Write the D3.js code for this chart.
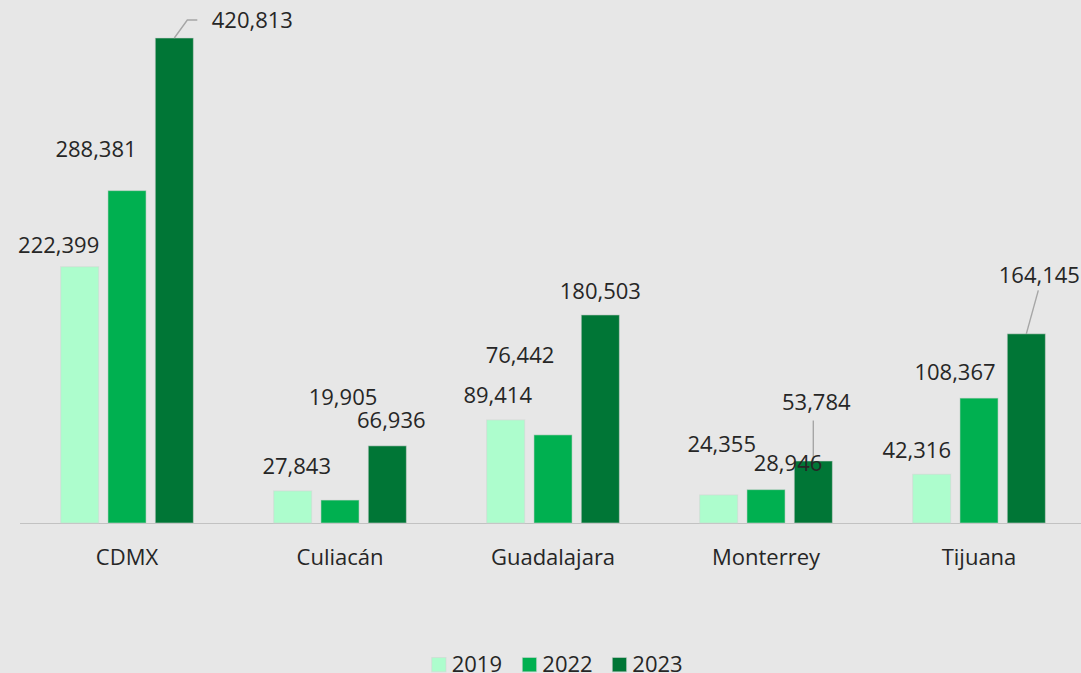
<!DOCTYPE html>
<html>
<head>
<meta charset="utf-8">
<script src="https://cdn.jsdelivr.net/npm/d3@7/dist/d3.min.js"></script>
<style>
  html, body { margin: 0; padding: 0; background: #e7e7e7; }
  svg { display: block; }
  text { font-family: "Open Sans", "Noto Sans", sans-serif; fill: #262626; }
</style>
</head>
<body>
<svg id="chart" width="1081" height="673"></svg>
<script>
// Categories and series
const cities = ["CDMX", "Culiacán", "Guadalajara", "Monterrey", "Tijuana"];
const years = ["2019", "2022", "2023"];
const values2019 = [222399, 27843, 89414, 24355, 42316];
const values2022 = [288381, 19905, 76442, 28946, 108367];
const values2023 = [420813, 66936, 180503, 53784, 164145];
const seriesColors = ["#adfdcd", "#00b050", "#007636"];

// Hand-placed data label offsets (dx, dy of label baseline from bar top centre)
const labelOffsets2019 = [[-21, -14], [4, -17], [-8, -17], [3, -43], [-15, -16.5]];
const labelOffsets2022 = [[-31, -34], [3, -95], [-33, -71.5], [22, -19], [-24, -18]];
const labelOffsets2023 = [[78, -10], [4, -17.5], [0, -16], [3, -51], [13, -51]];

// Leader lines, as points relative to the bar top centre
const leaderLines = [
  { city: "CDMX", year: "2023", pts: [[0, 0], [13, -18], [23, -18]] },
  { city: "Monterrey", year: "2023", pts: [[0, 0], [0, -40.5]] },
  { city: "Tijuana", year: "2023", pts: [[0, 0], [12, -43.5]] }
];

const seriesValues = [values2019, values2022, values2023];
const seriesOffsets = [labelOffsets2019, labelOffsets2022, labelOffsets2023];

const svg = d3.select("#chart");
const baseY = 523;

const x0 = d3.scaleBand()
  .domain(cities)
  .range([20.5, 1085.5])
  .paddingInner(0.377)
  .paddingOuter(0.1885);

const x1 = d3.scaleBand()
  .domain(years)
  .range([0, x0.bandwidth()])
  .paddingInner(0.195)
  .paddingOuter(0);

const allValues = values2019.concat(values2022, values2023);
const y = d3.scaleLinear()
  .domain([0, d3.max(allValues)])
  .range([baseY, 38]);

// Flattened bar records
const bars = [];
years.forEach((yr, si) => {
  cities.forEach((c, ci) => {
    bars.push({
      city: c, year: yr, value: seriesValues[si][ci],
      color: seriesColors[si], off: seriesOffsets[si][ci]
    });
  });
});
const barCx = d => x0(d.city) + x1(d.year) + x1.bandwidth() / 2;

// Category axis
const axis = svg.append("g")
  .attr("transform", `translate(0,${baseY + 0.5})`)
  .call(d3.axisBottom(x0).tickSize(0).tickPadding(30).tickSizeOuter(0));
axis.select(".domain").attr("stroke", "#c2c2c2").attr("stroke-width", 1)
  .attr("d", "M20,0H1081");
axis.selectAll(".tick text")
  .attr("font-size", 22)
  .attr("font-family", "'Open Sans', 'Noto Sans', sans-serif")
  .attr("fill", "#262626")
  .attr("dy", 0)
  .attr("y", 565 - baseY - 0.5);

// Bars
svg.append("g").selectAll("rect")
  .data(bars)
  .join("rect")
  .attr("x", d => x0(d.city) + x1(d.year))
  .attr("y", d => y(d.value))
  .attr("width", x1.bandwidth())
  .attr("height", d => baseY - y(d.value))
  .attr("fill", d => d.color)
  .attr("stroke", "#d4d4d4")
  .attr("stroke-opacity", 0.55)
  .attr("stroke-width", 1);

// Leader lines
const line = d3.line();
svg.append("g").selectAll("path")
  .data(leaderLines)
  .join("path")
  .attr("d", l => {
    const b = bars.find(d => d.city === l.city && d.year === l.year);
    const cx = barCx(b), ty = y(b.value);
    return line(l.pts.map(p => [cx + p[0], ty + p[1]]));
  })
  .attr("fill", "none")
  .attr("stroke", "#a6a6a6")
  .attr("stroke-width", 1.4);

// Data labels
const fmt = d3.format(",");
svg.append("g").selectAll("text")
  .data(bars)
  .join("text")
  .attr("x", d => barCx(d) + d.off[0])
  .attr("y", d => y(d.value) + d.off[1])
  .attr("text-anchor", "middle")
  .attr("font-size", 22)
  .text(d => fmt(d.value));

// Legend
const legendX = [431.7, 522.3, 612.3];
const legend = svg.append("g").selectAll("g")
  .data(years)
  .join("g")
  .attr("transform", (d, i) => `translate(${legendX[i]},0)`);
legend.append("rect")
  .attr("x", 0).attr("y", 657.5)
  .attr("width", 14.3).attr("height", 14.3)
  .attr("fill", (d, i) => seriesColors[i])
  .attr("stroke", "#d4d4d4").attr("stroke-opacity", 0.55);
legend.append("text")
  .attr("x", 20).attr("y", 671.5)
  .attr("font-size", 22)
  .text(d => d);
</script>
</body>
</html>
